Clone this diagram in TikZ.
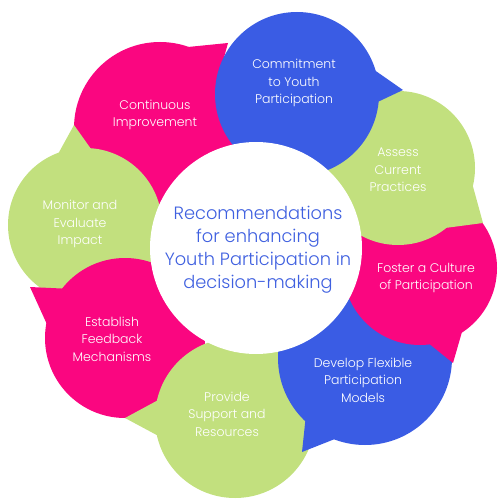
\documentclass[tikz,border=0pt]{standalone}
\usepackage{fontspec}
\IfFontExistsTF{Poppins Light}{\setmainfont{Poppins Light}}{\setmainfont{Poppins}}
\definecolor{bubbleBlue}{HTML}{3A5CE4}
\definecolor{bubbleGreen}{HTML}{C2E07E}
\definecolor{bubblePink}{HTML}{FA0680}
\definecolor{hubBlue}{HTML}{3F60E0}
\tikzset{
  blueBubble/.style={fill=bubbleBlue},
  greenBubble/.style={fill=bubbleGreen},
  pinkBubble/.style={fill=bubblePink},
  bubbleText/.style={text=white, align=center, font=\fontsize{12.5}{17.5}\selectfont},
  hubText/.style={text=hubBlue, align=center, font=\fontsize{17.8}{23}\selectfont}
}
\begin{document}
\begin{tikzpicture}[x=1pt, y=-1pt]
  \useasboundingbox (0,0) rectangle (500,500);
  % bubbles, back to front
  \fill[pinkBubble] (160,128) circle[radius=86];
  \fill[pinkBubble] (178,48) -- (228,43) -- (215,90) -- cycle;
  \fill[greenBubble] (85,225) circle[radius=77];
  \fill[greenBubble] (52,165) -- (74,125) -- (96,156) -- cycle;
  \fill[pinkBubble] (125,338) circle[radius=80];
  \fill[pinkBubble] (50,331) -- (30,287) -- (72,289) -- cycle;
  \fill[greenBubble] (235,418) circle[radius=80];
  \fill[greenBubble] (162,398) -- (125,418) -- (166,440) -- cycle;
  \fill[blueBubble] (365,358) circle[radius=87];
  \fill[blueBubble] (307,405) -- (302,452) -- (350,433) -- cycle;
  \fill[pinkBubble] (420,268) circle[radius=77];
  \fill[pinkBubble] (466,318) -- (453,363) -- (422,338) -- cycle;
  \fill[greenBubble] (398,168) circle[radius=77];
  \fill[greenBubble] (469,172) -- (483,223) -- (445,228) -- cycle;
  \fill[blueBubble] (297,94) circle[radius=82];
  \fill[blueBubble] (360,60) -- (403,90) -- (367,107) -- cycle;
  % hub
  \fill[white] (256,248) circle[radius=106];
  \node[hubText] (hub) at (258,250) {Recommendations\\for enhancing\\Youth Participation in\\decision-making};
  % labels
  \node[bubbleText] (commit) at (294,83) {Commitment\\to Youth\\Participation};
  \node[bubbleText] (assess) at (398,170) {Assess\\Current\\Practices};
  \node[bubbleText] (foster) at (426,278) {Foster a Culture\\of Participation};
  \node[bubbleText] (develop) at (363,380) {Develop Flexible\\Participation\\Models};
  \node[bubbleText] (provide) at (227,414) {Provide\\Support and\\Resources};
  \node[bubbleText] (feedback) at (112,339) {Establish\\Feedback\\Mechanisms};
  \node[bubbleText] (monitor) at (80,224) {Monitor and\\Evaluate\\Impact};
  \node[bubbleText] (improve) at (155,115) {Continuous\\Improvement};
\end{tikzpicture}
\end{document}
